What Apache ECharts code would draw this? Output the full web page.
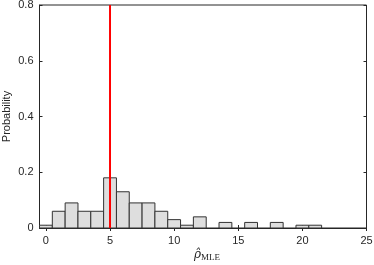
<!DOCTYPE html>
<html>
<head>
<meta charset="utf-8">
<script src="https://cdn.jsdelivr.net/npm/echarts@6/dist/echarts.min.js"></script>
<style>html,body{margin:0;padding:0;background:#fff}#c{width:374px;height:265px}</style>
</head>
<body>
<div id="c"></div>
<script>
// bin centers (integer bins, width 1)
const binCenters = [0,1,2,3,4,5,6,7,8,9,10,11,12,13,14,15,16,17,18,19,20,21];
// probability per bin
const binProbs = [0.01,0.06,0.09,0.06,0.06,0.18,0.13,0.09,0.09,0.06,0.03,0.01,0.04,0,0.02,0,0.02,0,0.02,0,0.01,0.01];
const binWidth = 1;
// red reference line
const refLineX = 5;
const xTicks = [0,5,10,15,20,25];
const yTicks = [0,0.2,0.4,0.6,0.8];

const axisColor = '#262626';
const fontFam = '"Liberation Sans", Arial, Helvetica, sans-serif';

const histData = binCenters.map((c,i)=>[c, binProbs[i]]);

const chart = echarts.init(document.getElementById('c'), null, {renderer:'canvas'});
chart.setOption({
  animation:false,
  grid:{left:39.5,right:7.5,top:5,bottom:37,containLabel:false,outerBoundsMode:'none',show:true,borderColor:axisColor,borderWidth:1,backgroundColor:'transparent'},
  xAxis:[{
    type:'value', min:-0.5, max:25,
    axisLine:{show:true,onZero:false,lineStyle:{color:axisColor,width:1}},
    axisTick:{show:true,inside:true,length:3,customValues:xTicks,lineStyle:{color:axisColor}},
    axisLabel:{customValues:xTicks,color:axisColor,fontFamily:fontFam,fontSize:11,margin:7},
    splitLine:{show:false},
    name:'{rho|ρ̂}{sub|MLE}',
    nameLocation:'middle', nameGap:20, nameMoveOverlap:false,
    nameTextStyle:{padding:[0,0,0,8],rich:{
      rho:{fontFamily:'"DejaVu Serif","Liberation Serif",serif',fontStyle:'italic',fontSize:12,color:axisColor},
      sub:{fontFamily:'"Liberation Serif","DejaVu Serif",serif',fontSize:9,color:axisColor,padding:[5,0,0,0]}
    }}
  },{
    type:'value', min:-0.5, max:25, position:'top',
    axisLine:{show:false},
    axisTick:{show:true,inside:true,length:3,customValues:xTicks,lineStyle:{color:axisColor}},
    axisLabel:{show:false},
    splitLine:{show:false}
  }],
  yAxis:[{
    type:'value', min:0, max:0.8, interval:0.2,
    axisLine:{show:true,onZero:false,lineStyle:{color:axisColor,width:1}},
    axisTick:{show:true,inside:true,length:3,lineStyle:{color:axisColor}},
    axisLabel:{color:axisColor,fontFamily:fontFam,fontSize:11,margin:6,
      formatter:v=>String(Math.round(v*10)/10)},
    splitLine:{show:false},
    name:'Probability', nameLocation:'middle', nameGap:27, nameMoveOverlap:false,
    nameTextStyle:{color:axisColor,fontFamily:fontFam,fontSize:11}
  },{
    type:'value', min:0, max:0.8, interval:0.2, position:'right',
    axisLine:{show:false,onZero:false},
    axisTick:{show:true,inside:true,length:3,lineStyle:{color:axisColor}},
    axisLabel:{show:false},
    splitLine:{show:false}
  }],
  series:[{
    type:'custom',
    xAxisIndex:0, yAxisIndex:0,
    data:histData,
    renderItem:function(params, api){
      const c = api.value(0), v = api.value(1);
      if (v <= 0) return null;
      const p1 = api.coord([c - binWidth/2, v]);
      const p2 = api.coord([c + binWidth/2, 0]);
      return {
        type:'rect',
        shape:{x:p1[0], y:p1[1], width:p2[0]-p1[0], height:p2[1]-p1[1]},
        style:{fill:'#dedede', stroke:'#333333', lineWidth:1}
      };
    },
    z:2
  },{
    type:'line',
    xAxisIndex:0, yAxisIndex:0,
    data:[[refLineX,0],[refLineX,0.8]],
    symbol:'none',
    lineStyle:{color:'#ff0000',width:2},
    z:3
  }]
});
</script>
</body>
</html>
